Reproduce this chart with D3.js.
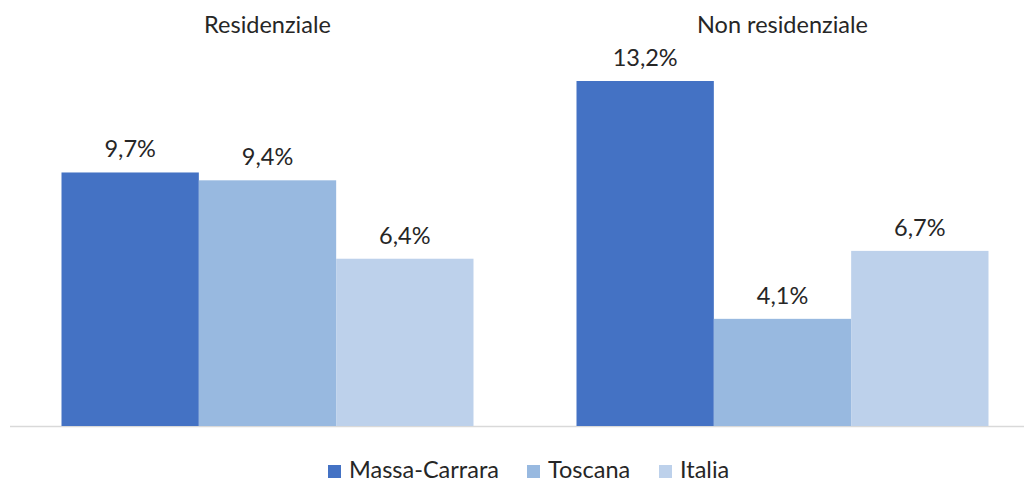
<!DOCTYPE html>
<html>
<head>
<meta charset="utf-8">
<script src="https://cdn.jsdelivr.net/npm/d3@7"></script>
<style>
  html, body { margin: 0; padding: 0; background: #fff; }
  svg { display: block; font-family: Lato, "Open Sans", sans-serif; }
</style>
</head>
<body>
<svg id="chart" width="1028" height="482"></svg>
<script>
// Quota percentuale per tipologia di immobile
const categories = ["Residenziale", "Non residenziale"];
const seriesNames = ["Massa-Carrara", "Toscana", "Italia"];
const massaCarrara = [9.7, 13.2];
const toscana = [9.4, 4.1];
const italia = [6.4, 6.7];
const colors = ["#4472C4", "#98B9E0", "#BDD1EB"];

const seriesValues = [massaCarrara, toscana, italia];

const svg = d3.select("#chart");
const fontSize = 23.5;

const x0 = d3.scaleBand()
  .domain(categories)
  .range([10, 1040])
  .paddingInner(0.2)
  .paddingOuter(0.1);

const x1 = d3.scaleBand()
  .domain(seriesNames)
  .range([0, x0.bandwidth()]);

const y = d3.scaleLinear()
  .domain([0, 13.2])
  .range([426, 81]);

const fmt = v => d3.format(".1f")(v).replace(".", ",") + "%";

// asse orizzontale
svg.append("line")
  .attr("x1", 10).attr("x2", 1024)
  .attr("y1", 426.5).attr("y2", 426.5)
  .attr("stroke", "#d9d9d9")
  .attr("stroke-width", 1.5);

const groups = svg.selectAll("g.cat")
  .data(categories)
  .join("g")
  .attr("class", "cat")
  .attr("transform", d => `translate(${x0(d)},0)`);

groups.each(function(cat, ci) {
  const g = d3.select(this);
  seriesNames.forEach((s, si) => {
    const v = seriesValues[si][ci];
    g.append("rect")
      .attr("x", x1(s))
      .attr("y", y(v))
      .attr("width", x1.bandwidth())
      .attr("height", y(0) - y(v))
      .attr("fill", colors[si]);
    g.append("text")
      .attr("x", x1(s) + x1.bandwidth() / 2)
      .attr("y", y(v) - 15)
      .attr("text-anchor", "middle")
      .attr("font-size", fontSize)
      .attr("fill", "#262626")
      .text(fmt(v));
  });
  g.append("text")
    .attr("x", x0.bandwidth() / 2)
    .attr("y", 33)
    .attr("text-anchor", "middle")
    .attr("font-size", fontSize)
    .attr("fill", "#262626")
    .text(cat);
});

// legenda
const legendX = [328, 527, 659];
const legend = svg.append("g");
seriesNames.forEach((s, i) => {
  legend.append("rect")
    .attr("x", legendX[i]).attr("y", 465)
    .attr("width", 13).attr("height", 13)
    .attr("fill", colors[i]);
  legend.append("text")
    .attr("x", legendX[i] + 21)
    .attr("y", 478)
    .attr("font-size", fontSize)
    .attr("fill", "#262626")
    .text(s);
});
</script>
</body>
</html>
